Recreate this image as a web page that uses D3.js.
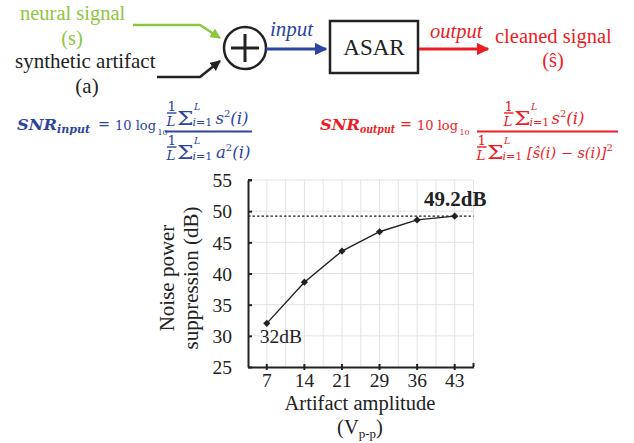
<!DOCTYPE html>
<html>
<head>
<meta charset="utf-8">
<script src="https://cdn.jsdelivr.net/npm/d3@7"></script>
<style>
  body { margin: 0; background: #fff; }
  svg { display: block; font-family: "Liberation Serif", serif; }
</style>
</head>
<body>
<svg id="main" width="634" height="443"></svg>
<script>
"use strict";

// chart data
const amplitudes = ["7", "14", "21", "29", "36", "43"];
const suppression = [32, 38.6, 43.6, 46.7, 48.6, 49.2];
const yTicks = [25, 30, 35, 40, 45, 50, 55];
const peakValue = 49.2;

// colours
const green = "#8dc63f";
const blue = "#2b45a0";
const red = "#ec1c24";
const ink = "#222";

const svg = d3.select("#main");

// ---------- block diagram ----------
const defs = svg.append("defs");
const mkArrow = (id, col) => {
  defs.append("marker")
    .attr("id", id)
    .attr("viewBox", "0 0 10 10")
    .attr("refX", 9).attr("refY", 5)
    .attr("markerWidth", 4.2).attr("markerHeight", 4.2)
    .attr("markerUnits", "strokeWidth")
    .attr("orient", "auto")
    .append("path").attr("d", "M0,0L10,5L0,10z").attr("fill", col);
};
mkArrow("ag", green);
mkArrow("ak", ink);
mkArrow("ab", blue);
mkArrow("ar", red);

const diag = svg.append("g");

diag.append("text").attr("x", 20).attr("y", 20).attr("fill", green)
  .style("font-size", "20.5px").text("neural signal");
diag.append("text").attr("x", 72).attr("y", 45).attr("fill", green)
  .attr("text-anchor", "middle").style("font-size", "20.5px").text("(s)");
diag.append("text").attr("x", 15).attr("y", 68).attr("fill", ink)
  .style("font-size", "21px").text("synthetic artifact");
diag.append("text").attr("x", 87).attr("y", 93).attr("fill", ink)
  .attr("text-anchor", "middle").style("font-size", "21px").text("(a)");

diag.append("path").attr("d", "M133,25L200,25L220,38")
  .attr("fill", "none").attr("stroke", green).attr("stroke-width", 2.5)
  .attr("marker-end", "url(#ag)");
diag.append("path").attr("d", "M157,77L200,77L220,61")
  .attr("fill", "none").attr("stroke", ink).attr("stroke-width", 2.5)
  .attr("marker-end", "url(#ak)");

// summing node
diag.append("circle").attr("cx", 245).attr("cy", 48).attr("r", 21)
  .attr("fill", "#fff").attr("stroke", ink).attr("stroke-width", 2.5);
diag.append("path").attr("d", "M231,48H259M245,34V62")
  .attr("stroke", ink).attr("stroke-width", 3);

diag.append("line").attr("x1", 266).attr("y1", 49).attr("x2", 326).attr("y2", 49)
  .attr("stroke", blue).attr("stroke-width", 3).attr("marker-end", "url(#ab)");
diag.append("text").attr("x", 270).attr("y", 36).attr("fill", blue)
  .style("font-size", "21px").style("font-style", "italic").text("input");

diag.append("rect").attr("x", 330).attr("y", 21).attr("width", 88).attr("height", 52)
  .attr("fill", "#fff").attr("stroke", ink).attr("stroke-width", 2.5);
diag.append("text").attr("x", 374).attr("y", 55).attr("fill", ink)
  .attr("text-anchor", "middle").style("font-size", "23px").text("ASAR");

diag.append("line").attr("x1", 419).attr("y1", 49).attr("x2", 488).attr("y2", 49)
  .attr("stroke", red).attr("stroke-width", 3).attr("marker-end", "url(#ar)");
diag.append("text").attr("x", 430).attr("y", 38).attr("fill", red)
  .style("font-size", "20.5px").style("font-style", "italic").text("output");
diag.append("text").attr("x", 495).attr("y", 43).attr("fill", red)
  .style("font-size", "20.5px").text("cleaned signal");
diag.append("text").attr("x", 553).attr("y", 67).attr("fill", red)
  .attr("text-anchor", "middle").style("font-size", "20.5px").text("(ŝ)");

// ---------- formulas ----------
const mathFont = "'DejaVu Serif', serif";

// put a piece of text at x, optionally squeezed to a width
const piece = (g, x, yb, w, txt, col, size, opts = {}) => {
  const t = g.append("text").attr("x", x).attr("y", yb).attr("fill", col)
    .style("font-size", size + "px")
    .style("font-style", opts.italic ? "italic" : "normal")
    .style("font-weight", opts.bold ? "bold" : "normal")
    .text(txt);
  if (w) t.attr("textLength", w).attr("lengthAdjust", "spacingAndGlyphs");
  return t;
};

// summand like  s²(i)  written with tspans
const summand = (g, x, base, col, size, before, after) => {
  const t = g.append("text").attr("x", x).attr("y", base).attr("fill", col)
    .style("font-size", size + "px").style("font-style", "italic");
  t.append("tspan").text(before);
  t.append("tspan").attr("dy", -7).style("font-size", "10px").style("font-style", "normal").text("2");
  if (after) t.append("tspan").attr("dy", 7).text(after);
  return t;
};

// 1/L mini fraction, sum with limits
const sumTerm = (g, mx, base, col) => {
  piece(g, mx + 0.5, base - 13, 0, "1", col, 13.5);
  g.append("line").attr("x1", mx).attr("x2", mx + 9.5).attr("y1", base - 11).attr("y2", base - 11)
    .attr("stroke", col).attr("stroke-width", 1.4);
  piece(g, mx - 0.5, base + 1.5, 0, "L", col, 13.5, { italic: true });
  g.append("text").attr("transform", `translate(${mx + 10},${base + 1}) scale(1.3,1)`)
    .attr("fill", col).style("font-size", "18px").text("Σ");
  piece(g, mx + 27, base - 14, 0, "L", col, 9.5, { italic: true });
  const sub = g.append("text").attr("x", mx + 25.5).attr("y", base + 1.5).attr("fill", col)
    .style("font-size", "11px");
  sub.append("tspan").style("font-style", "italic").text("i");
  sub.append("tspan").text("=1");
};

const lhs = (g, x0, sub, subW, col, eqX, logX) => {
  piece(g, x0, 130, 40, "SNR", col, 15.5, { bold: true, italic: true });
  piece(g, x0 + 40, 133, subW, sub, col, 11, { bold: true, italic: true });
  piece(g, eqX, 129, 12, "=", col, 15);
  piece(g, logX, 130, 0, "10 log", col, 13);
  piece(g, logX + 42.5, 134.5, 0, "10", col, 8);
};

// input SNR
const gIn = svg.append("g").style("font-family", mathFont);
lhs(gIn, 17, "input", 33, blue, 98, 115);
gIn.append("line").attr("x1", 165).attr("x2", 252).attr("y1", 131.5).attr("y2", 131.5)
  .attr("stroke", blue).attr("stroke-width", 1.8);
sumTerm(gIn, 167, 124, blue);
summand(gIn, 215.5, 124, blue, 16.5, "s", "(i)");
sumTerm(gIn, 167, 158, blue);
summand(gIn, 216, 158, blue, 16.5, "a", "(i)");

// output SNR
const gOut = svg.append("g").style("font-family", mathFont);
lhs(gOut, 320, "output", 35, red, 400, 417);
gOut.append("line").attr("x1", 477).attr("x2", 618).attr("y1", 131.5).attr("y2", 131.5)
  .attr("stroke", red).attr("stroke-width", 1.8);
sumTerm(gOut, 504, 124, red);
summand(gOut, 551.5, 124, red, 16.5, "s", "(i)");
sumTerm(gOut, 477, 158, red);
summand(gOut, 527, 158, red, 14.5, "[ŝ(i) − s(i)]", null);

// ---------- line chart ----------
const x = d3.scaleBand().domain(amplitudes).range([248, 473.5]).padding(0);
const y = d3.scaleLinear().domain([25, 55]).range([367, 180]);
const cx = (d) => x(d) + x.bandwidth() / 2;

const chart = svg.append("g");

// grid: horizontal at ticks, vertical at half steps
chart.append("g").selectAll("line").data(yTicks.slice(1)).join("line")
  .attr("x1", 248).attr("x2", 473.5)
  .attr("y1", (d) => y(d)).attr("y2", (d) => y(d))
  .attr("stroke", "#e3e3e3").attr("stroke-width", 1);
const halfSteps = [];
amplitudes.forEach((a) => { halfSteps.push(cx(a)); halfSteps.push(x(a) + x.bandwidth()); });
chart.append("g").selectAll("line").data(halfSteps).join("line")
  .attr("x1", (d) => d).attr("x2", (d) => d)
  .attr("y1", y(55)).attr("y2", y(25))
  .attr("stroke", "#e3e3e3").attr("stroke-width", 1);

// dashed peak line
chart.append("line")
  .attr("x1", 248).attr("x2", 473.5)
  .attr("y1", y(peakValue)).attr("y2", y(peakValue))
  .attr("stroke", ink).attr("stroke-width", 1.3).attr("stroke-dasharray", "2.5,2");

// axes
const yAxis = chart.append("g").attr("transform", "translate(248,0)")
  .call(d3.axisLeft(y).tickValues(yTicks).tickSize(-4).tickSizeOuter(0).tickPadding(16));
const xAxis = chart.append("g").attr("transform", `translate(0,${y(25)})`)
  .call(d3.axisBottom(x).tickSize(3).tickSizeOuter(0).tickPadding(3));
xAxis.selectAll(".tick line").attr("y1", -3);
[yAxis, xAxis].forEach((ax) => {
  ax.select(".domain").attr("stroke", ink).attr("stroke-width", 2);
  ax.selectAll(".tick line").attr("stroke", ink).attr("stroke-width", 2);
  ax.selectAll("text").attr("fill", ink).style("font-size", "19.5px")
    .style("font-family", "'Liberation Serif', serif");
});
yAxis.selectAll("text").attr("dy", "0.35em");
xAxis.append("line").attr("x1", 473.5).attr("x2", 473.5).attr("y1", -4).attr("y2", 0)
  .attr("stroke", ink).attr("stroke-width", 2);
// top cap of y axis
yAxis.append("line").attr("x1", 0).attr("x2", 4).attr("y1", y(55)).attr("y2", y(55))
  .attr("stroke", ink).attr("stroke-width", 2);

// data line and diamonds
const pts = amplitudes.map((a, i) => [cx(a), y(suppression[i])]);
chart.append("path").datum(pts)
  .attr("d", d3.line())
  .attr("fill", "none").attr("stroke", ink).attr("stroke-width", 1.4);
chart.append("g").selectAll("path").data(pts).join("path")
  .attr("transform", (d) => `translate(${d[0]},${d[1]}) rotate(45)`)
  .attr("d", d3.symbol(d3.symbolSquare, 26))
  .attr("fill", ink);

// annotations
chart.append("text").attr("x", cx("7") - 7).attr("y", y(suppression[0]) + 20)
  .attr("fill", ink).style("font-size", "19.5px").text("32dB");
chart.append("text").attr("x", 424).attr("y", 206)
  .attr("fill", ink).style("font-size", "21px").style("font-weight", "bold").text("49.2dB");

// axis titles
chart.append("text").attr("x", 360).attr("y", 410).attr("text-anchor", "middle")
  .attr("fill", ink).style("font-size", "20.5px").text("Artifact amplitude");
const vt = chart.append("text").attr("x", 360).attr("y", 434).attr("text-anchor", "middle")
  .attr("fill", ink).style("font-size", "20.5px");
vt.append("tspan").text("(V");
vt.append("tspan").attr("dy", 4).style("font-size", "13px").text("p-p");
vt.append("tspan").attr("dy", -4).text(")");

const yt = chart.append("text").attr("transform", "translate(174,278) rotate(-90)")
  .attr("text-anchor", "middle").attr("fill", ink).style("font-size", "21px");
yt.append("tspan").attr("x", 0).attr("dy", 0).text("Noise power");
yt.append("tspan").attr("x", 0).attr("dy", 24).text("suppression (dB)");
</script>
</body>
</html>
